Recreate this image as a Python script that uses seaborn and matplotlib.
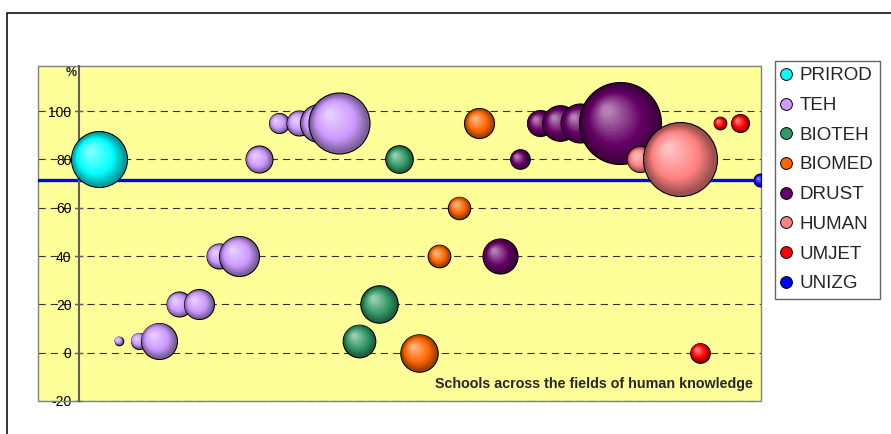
import numpy as np
import pandas as pd
import matplotlib
matplotlib.use("Agg")
import matplotlib.pyplot as plt
import matplotlib.colors as mcolors
from matplotlib.lines import Line2D
from matplotlib.patches import Rectangle
import seaborn as sns

# fields of human knowledge and their Excel-like colours
GROUPS = ['PRIROD', 'TEH', 'BIOTEH', 'BIOMED', 'DRUST', 'HUMAN', 'UMJET', 'UNIZG']
GROUP_COLORS = ['#00FFFF', '#CC99FF', '#339966', '#FF6600', '#660066', '#FF8080', '#FF0000', '#0000FF']

# one bubble per school (x = school index, pct = %, weight = bubble area)
SCHOOL_X = [1,
            2, 3, 4, 5, 6, 7, 8, 9, 10, 11, 12, 13,
            14, 15, 16,
            17, 18, 19, 20,
            21, 22, 23, 24, 25, 27,
            28, 30,
            31, 32, 33,
            34]
SCHOOL_PCT = [80,
              5, 5, 5, 20, 20, 40, 40, 80, 95, 95, 95, 95,
              5, 20, 80,
              0, 40, 60, 95,
              40, 80, 95, 95, 95, 95,
              80, 80,
              0, 95, 95,
              71.3]
SCHOOL_WEIGHT = [784,
                 18, 64, 324, 156, 225, 156, 400, 182, 100, 156, 361, 930,
                 266, 350, 190,
                 350, 128, 125, 225,
                 306, 96, 169, 317, 380, 1681,
                 169, 1369,
                 96, 40, 81,
                 42]
SCHOOL_GROUP = ['PRIROD',
                'TEH', 'TEH', 'TEH', 'TEH', 'TEH', 'TEH', 'TEH', 'TEH', 'TEH', 'TEH', 'TEH', 'TEH',
                'BIOTEH', 'BIOTEH', 'BIOTEH',
                'BIOMED', 'BIOMED', 'BIOMED', 'BIOMED',
                'DRUST', 'DRUST', 'DRUST', 'DRUST', 'DRUST', 'DRUST',
                'HUMAN', 'HUMAN',
                'UMJET', 'UMJET', 'UMJET',
                'UNIZG']

UNIZG_PCT = 71.3
YTICKS = [-20, 0, 20, 40, 60, 80, 100]

W_MAX = 2000
S_MAX = W_MAX * 1.44 ** 2   # pt^2 for W_MAX
N_LAYERS = 16


def darker(color, k=0.62):
    return tuple(np.array(mcolors.to_rgb(color)) * k)


def shade(color, t):
    rgb = np.array(mcolors.to_rgb(color))
    dark = rgb * 0.62
    light = rgb + (1 - rgb) * 0.5
    if t < 0.35:
        return tuple(dark + (rgb - dark) * (t / 0.35))
    return tuple(rgb + (light - rgb) * ((t - 0.35) / 0.65))


sns.set_style("white")
plt.rcParams['font.family'] = ['Liberation Sans', 'DejaVu Sans']
plt.rcParams['axes.unicode_minus'] = False

df = pd.DataFrame({'x': SCHOOL_X, 'pct': SCHOOL_PCT, 'weight': SCHOOL_WEIGHT, 'group': SCHOOL_GROUP})
palette = dict(zip(GROUPS, GROUP_COLORS))
dark_palette = {g: darker(c) for g, c in palette.items()}

fig = plt.figure(figsize=(8.91, 4.34), dpi=100)
ax = fig.add_axes([38 / 891, 33 / 434, 723 / 891, 335 / 434])
ax.set_facecolor('#FFFF99')
ax.set_xlim(-2.02, 34.04)
ax.set_ylim(-20, 118.7)

# UNIZG average line
ax.axhline(UNIZG_PCT, color='#0000FF', lw=2.4, zorder=2.5)

# bubbles, drawn school by school so later ones overlap earlier ones
for i in range(len(df)):
    z = 3 + i * 0.01
    sns.scatterplot(data=df.iloc[[i]], x='x', y='pct', hue='group', palette=dark_palette,
                    size='weight', sizes=(0, S_MAX), size_norm=(0, W_MAX),
                    edgecolor='black', linewidth=0.8, legend=False, zorder=z, ax=ax)

    # 3D shading: smaller, lighter circles shifted to the upper left
    row = df.iloc[i]
    s_full = S_MAX * row['weight'] / W_MAX
    r_px = np.sqrt(s_full) / 72 * 100 / 2
    cx, cy = ax.transData.transform((row['x'], row['pct']))
    t = np.linspace(0, 1, N_LAYERS)
    f = 0.95 - 0.82 * t
    off = 0.3 * r_px * t
    pts = ax.transData.inverted().transform(np.column_stack([cx - off, cy + off]))
    cols = [shade(palette[row['group']], tt) for tt in t]
    ax.scatter(pts[:, 0], pts[:, 1], s=s_full * f ** 2, c=cols, linewidths=0, zorder=z + 0.005)

ax.set_xlabel('')
ax.set_ylabel('')

# axes styling
for sp in ['top', 'right', 'bottom']:
    ax.spines[sp].set_visible(False)
ax.spines['left'].set_position(('data', 0))
ax.spines['left'].set_color('#606060')
ax.spines['left'].set_linewidth(1.5)
ax.add_patch(Rectangle((0, 0), 1, 1, transform=ax.transAxes, fill=False,
                       ec='#808080', lw=1, zorder=1, clip_on=False))
ax.set_xticks([])
ax.set_yticks(YTICKS)
ax.tick_params(axis='y', direction='inout', length=6, width=1, color='#606060',
               labelsize=10, pad=2, labelcolor='black', left=True)
ax.yaxis.grid(True, ls=(0, (6.5, 4.5)), color='#333333', lw=0.8)
ax.set_axisbelow(True)

ax.annotate('%', xy=(0, 1), xycoords=('data', 'axes fraction'), xytext=(-1, -5.3),
            textcoords='offset points', ha='right', va='center', fontsize=9, fontweight='bold')
ax.text(0.989, 0.051, 'Schools across the fields of human knowledge', transform=ax.transAxes,
        ha='right', va='center', fontsize=10.3, fontweight='bold', zorder=10)

# legend
handles = [Line2D([], [], ls='none', marker='o', ms=8.5, mfc=c, mec='black', mew=0.7)
           for c in GROUP_COLORS]
leg = fig.legend(handles, GROUPS, loc='upper left', bbox_to_anchor=(775 / 891, 1 - 60.7 / 434),
                 bbox_transform=fig.transFigure, borderaxespad=0, frameon=True, fancybox=False,
                 edgecolor='#666666', framealpha=1, fontsize=13.5, handlelength=0.48,
                 handletextpad=0.5, borderpad=0.35, labelspacing=0.67)
leg.get_frame().set_linewidth(1)

# outer chart frame (runs off the right and bottom of the picture)
fig.add_artist(Rectangle((6.5 / 891, -0.2), 1.5, 1.2 - 12.5 / 434, transform=fig.transFigure,
                         fill=False, ec='black', lw=1.1))

fig.savefig('out.png', dpi=100)
plt.close(fig)
